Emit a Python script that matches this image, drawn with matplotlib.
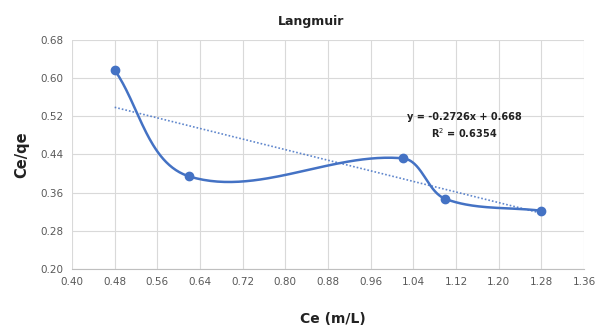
import matplotlib.pyplot as plt
import numpy as np

# data
ce = [0.48, 0.62, 1.02, 1.10, 1.28]
ce_qe = [0.617, 0.394, 0.432, 0.347, 0.322]
x_ticks = [0.40, 0.48, 0.56, 0.64, 0.72, 0.80, 0.88, 0.96, 1.04, 1.12, 1.20, 1.28, 1.36]
y_ticks = [0.20, 0.28, 0.36, 0.44, 0.52, 0.60, 0.68]
fit_text = "y = -0.2726x + 0.668\nR$^2$ = 0.6354"

blue = '#4472C4'
grey = '#595959'


def smooth(xs, ys, sx=533.0, sy=477.0, n=60):
    # smoothed line through the points, tangents weighted by chord length
    p = np.column_stack([np.array(xs) * sx, np.array(ys) * sy])
    k = len(p)
    tang = np.zeros_like(p)
    for i in range(k):
        a = p[max(i - 1, 0)]
        b = p[min(i + 1, k - 1)]
        tang[i] = (b - a)
    outx, outy = [], []
    t = np.linspace(0, 1, n)[:, None]
    for i in range(k - 1):
        p0, p3 = p[i], p[i + 1]
        d = np.linalg.norm(p3 - p0)
        t0 = tang[i] / (np.linalg.norm(tang[i]) + 1e-9)
        t1 = tang[i + 1] / (np.linalg.norm(tang[i + 1]) + 1e-9)
        c1 = p0 + t0 * d / 3
        c2 = p3 - t1 * d / 3
        b = (1 - t) ** 3 * p0 + 3 * (1 - t) ** 2 * t * c1 + 3 * (1 - t) * t ** 2 * c2 + t ** 3 * p3
        outx.extend(b[:, 0] / sx)
        outy.extend(b[:, 1] / sy)
    return outx, outy


fig = plt.figure(figsize=(5.98, 3.27), dpi=100)
ax = fig.add_axes([0.1204, 0.1774, 0.8562, 0.7003])

sx, sy = smooth(ce, ce_qe)
ax.plot(sx, sy, color=blue, lw=1.8, zorder=3)
ax.plot(ce, ce_qe, 'o', color=blue, ms=6, zorder=4)

# linear trendline
m, c = np.polyfit(ce, ce_qe, 1)
tx = np.array([ce[0], ce[-1]])
ax.plot(tx, m * tx + c, color=blue, lw=1.2, ls=(0, (1, 1.2)), alpha=0.85, zorder=2)

ax.text(1.135, 0.50, fit_text, ha='center', va='center', fontsize=7,
        fontweight='bold', color='#222222', linespacing=1.3)

ax.set_xlim(0.40, 1.36)
ax.set_ylim(0.20, 0.68)
ax.set_xticks(x_ticks)
ax.set_yticks(y_ticks)
ax.set_xticklabels(['%.2f' % v for v in x_ticks])
ax.set_yticklabels(['%.2f' % v for v in y_ticks])
ax.tick_params(length=0, labelsize=7.5, colors=grey, pad=6)
ax.grid(True, color='#d9d9d9', lw=0.8)
ax.set_axisbelow(True)
for s in ['top', 'right', 'left']:
    ax.spines[s].set_visible(False)
ax.spines['bottom'].set_color('#bfbfbf')

ax.set_title('Langmuir', fontsize=9, fontweight='bold', color='#222222', pad=11, x=0.467)
ax.set_xlabel('Ce (m/L)', fontsize=10, fontweight='bold', color='#222222', labelpad=18, x=0.51)
ax.set_ylabel('Ce/qe', fontsize=10.5, fontweight='bold', color='#222222', labelpad=8)

fig.savefig('out.png', dpi=100)
